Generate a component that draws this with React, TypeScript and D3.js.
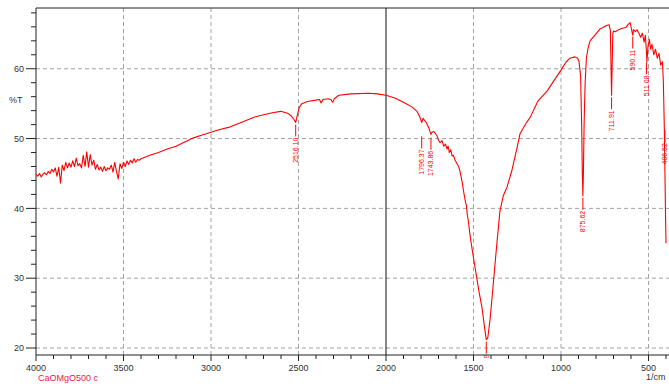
import React from "react";
import * as d3 from "d3";

const wavenumbers = [
  4000, 3990, 3980, 3970, 3960, 3950, 3940, 3930, 3920, 3910, 3900, 3890, 3880, 3870, 3860, 3850,
  3840, 3830, 3820, 3810, 3800, 3790, 3780, 3770, 3760, 3750, 3740, 3730, 3720, 3710, 3700, 3690,
  3680, 3670, 3660, 3650, 3640, 3630, 3620, 3610, 3600, 3590, 3580, 3570, 3560, 3550, 3540, 3530,
  3520, 3510, 3500, 3490, 3480, 3470, 3460, 3450, 3440, 3430, 3420, 3410, 3400, 3350, 3300, 3250,
  3200, 3150, 3100, 3050, 3000, 2950, 2900, 2850, 2800, 2750, 2700, 2650, 2600, 2560, 2540, 2525,
  2516, 2508, 2495, 2480, 2450, 2400, 2380, 2371, 2360, 2330, 2315, 2305, 2295, 2270, 2200, 2100,
  2050, 2000, 1950, 1900, 1850, 1823, 1805, 1796, 1788, 1783, 1770, 1755, 1743, 1737, 1728, 1720,
  1709, 1700, 1691, 1680, 1670, 1660, 1651, 1645, 1638, 1630, 1622, 1615, 1605, 1594, 1585, 1577,
  1565, 1555, 1545, 1540, 1536, 1530, 1520, 1510, 1491, 1470, 1451, 1435, 1427, 1418, 1405, 1389,
  1370, 1349, 1330, 1309, 1280, 1250, 1234, 1200, 1177, 1150, 1131, 1080, 1040, 1000, 970, 950,
  920, 905, 897, 888, 882, 878, 875, 872, 868, 862, 855, 845, 834, 800, 777, 760, 740, 725,
  718, 714, 711, 708, 704, 700, 690, 670, 650, 630, 615, 605, 598, 592, 589, 586, 575, 565,
  555, 545, 535, 525, 518, 512, 509, 503, 495, 488, 480, 470, 460, 450, 440, 430, 420, 415,
  410, 406, 402, 400,
];

const transmittance = [
  44.9, 44.6, 45.0, 44.5, 44.9, 45.1, 44.8, 45.3, 45.0, 45.6, 45.2, 45.8, 44.6, 45.9, 43.6, 46.2,
  45.4, 46.6, 45.8, 46.5, 45.9, 46.8, 46.0, 47.2, 46.1, 46.4, 45.8, 47.6, 46.0, 48.1, 45.9, 47.7,
  46.2, 46.9, 45.6, 46.3, 45.5, 45.9, 45.3, 46.0, 45.4, 45.8, 45.6, 46.2, 45.2, 46.6, 45.3, 44.2,
  46.4, 45.7, 46.6, 46.0, 46.8, 46.3, 46.9, 46.5, 47.1, 46.6, 47.0, 46.9, 47.1, 47.6, 48.0, 48.5,
  48.9, 49.5, 50.1, 50.5, 50.9, 51.3, 51.6, 52.1, 52.6, 53.1, 53.4, 53.7, 53.9, 53.6, 53.2, 52.7,
  52.3, 53.2, 54.5, 55.0, 55.3, 55.5, 55.6, 55.1, 55.6, 55.7, 55.6, 55.2, 55.7, 56.2, 56.4, 56.5,
  56.4, 56.2, 55.8, 55.2, 54.5, 53.9, 53.0, 52.3, 52.9, 52.7, 52.3, 51.5, 50.6, 50.9, 51.0, 50.8,
  50.4, 49.8, 49.4, 49.7, 48.9, 49.2, 48.5, 48.9, 48.0, 48.4, 47.5, 47.6, 46.9, 46.4, 46.0, 45.3,
  43.8, 42.2, 40.8, 40.4, 39.2, 38.3, 36.2, 34.5, 31.5, 28.3, 25.7, 22.6, 21.2, 21.5, 24.2, 28.6,
  34.0, 39.6, 41.8, 43.0, 45.5, 48.8, 50.7, 52.2, 53.0, 54.4, 55.4, 56.8, 58.3, 59.8, 61.0, 61.5,
  61.7, 61.5, 61.0, 59.0, 52.0, 45.0, 41.8, 45.0, 52.0, 58.0, 61.5, 63.0, 64.0, 65.0, 65.7, 65.9,
  66.2, 66.3, 65.5, 60.0, 56.2, 60.0, 65.0, 65.4, 65.3, 65.6, 65.8, 65.9, 66.4, 66.6, 65.8, 65.0,
  64.8, 65.6, 65.3, 65.6, 65.1, 64.5, 65.1, 63.8, 64.8, 62.5, 61.0, 63.2, 64.2, 62.8, 63.5, 62.0,
  62.8, 61.5, 62.2, 60.5, 61.0, 58.0, 52.0, 45.0, 38.0, 35.0,
];

const peakWavenumbers = [2516, 1796, 1743, 1427, 875, 711, 590, 511, 406];
const peakLabels = ["2516.10", "1796.37", "1743.86", "1427.09", "875.62", "711.91", "590.11", "511.08", "406.52"];
const peakValues = [52.3, 50.6, 50.4, 21.2, 41.8, 56.2, 64.9, 61.2, 51.5];

const xMajorTicks = [4000, 3500, 3000, 2500, 2000, 1500, 1000, 500];
const yMajorTicks = [20, 30, 40, 50, 60];
const gridX = [3500, 3000, 2500, 1500, 1000, 500];

const W = 669;
const H = 384;
const L = 36;
const R = 666;
const T = 8;
const B = 355;

export default function App() {
  const x = d3.scaleLinear().domain([4000, 400]).range([L, R]);
  const y = d3.scaleLinear().domain([19, 68.7]).range([B, T]);
  const pts = wavenumbers.map((w, i) => [w, transmittance[i]] as [number, number]);
  const line = d3
    .line<[number, number]>()
    .x((d) => x(d[0]))
    .y((d) => y(d[1]));

  const xMinor = d3.range(4000, 399, -100);
  const yMinor = d3.range(20, 69, 2);
  const font = "Liberation Sans, Arial, sans-serif";

  return (
    <svg
      width={W}
      height={H}
      style={{ position: "absolute", left: 0, top: 0, background: "#fff" }}
      fontFamily={font}
    >
      <defs>
        <clipPath id="plot">
          <rect x={L} y={T} width={W - L} height={B - T} />
        </clipPath>
        <clipPath id="lab">
          <rect x={L} y={T} width={W - L} height={B - T + 3} />
        </clipPath>
      </defs>
      <rect x={0} y={0} width={W} height={H} fill="#fff" />
      {/* grid */}
      {gridX.map((g) => (
        <line
          key={"gx" + g}
          x1={x(g)}
          x2={x(g)}
          y1={T}
          y2={B}
          stroke="#8c8c8c"
          strokeWidth={0.8}
          strokeDasharray="4,3"
        />
      ))}
      {yMajorTicks.map((g) => (
        <line
          key={"gy" + g}
          x1={L}
          x2={W}
          y1={y(g)}
          y2={y(g)}
          stroke="#8c8c8c"
          strokeWidth={0.8}
          strokeDasharray="4,3"
        />
      ))}
      <line x1={x(2000)} x2={x(2000)} y1={T} y2={B} stroke="#111" strokeWidth={1} />
      {/* frame */}
      <line x1={L} x2={W} y1={T} y2={T} stroke="#222" strokeWidth={1} />
      <line x1={L} x2={L} y1={T} y2={B} stroke="#222" strokeWidth={1} />
      <line x1={L} x2={W} y1={B} y2={B} stroke="#222" strokeWidth={1} />
      {/* y ticks */}
      {yMinor.map((v) => (
        <line
          key={"ym" + v}
          x1={L}
          x2={L - (v % 10 === 0 ? 10 : 5)}
          y1={y(v)}
          y2={y(v)}
          stroke="#222"
          strokeWidth={1}
        />
      ))}
      {yMajorTicks.map((v) => (
        <text key={"yl" + v} x={24} y={y(v)} dy="0.35em" textAnchor="end" fontSize={9} fill="#333">
          {v}
        </text>
      ))}
      {/* x ticks */}
      {xMinor.map((v) => (
        <line
          key={"xm" + v}
          x1={x(v)}
          x2={x(v)}
          y1={B}
          y2={B + (v % 500 === 0 ? 6 : 4)}
          stroke="#222"
          strokeWidth={1}
        />
      ))}
      {xMajorTicks.map((v) => (
        <text key={"xl" + v} x={x(v)} y={371} textAnchor="middle" fontSize={9} fill="#333">
          {v}
        </text>
      ))}
      <text x={9} y={103} fontSize={9} fill="#333">%T</text>
      <text x={646} y={380} fontSize={9} fill="#333">1/cm</text>
      <text x={38} y={381} fontSize={9} fill="#e8174a">CaOMgO500 c</text>
      {/* spectrum */}
      <g clipPath="url(#plot)">
        <path d={line(pts) || ""} fill="none" stroke="#ff0000" strokeWidth={1.1} strokeLinejoin="round" />
      </g>
      {/* peak labels */}
      <g clipPath="url(#lab)">
        {peakWavenumbers.map((w, i) => {
          const px = x(w);
          const py = y(peakValues[i]);
          const yEnd = py + 14;
          return (
            <g key={"pk" + w}>
              <line x1={px} x2={px} y1={py + 2} y2={yEnd} stroke="#ff0000" strokeWidth={1} />
              <text
                transform={`translate(${px},${yEnd + 1}) rotate(-90)`}
                textAnchor="end"
                dominantBaseline="central"
                fontSize={7}
                fill="#ff0000"
              >
                {peakLabels[i]}
              </text>
            </g>
          );
        })}
      </g>
    </svg>
  );
}
